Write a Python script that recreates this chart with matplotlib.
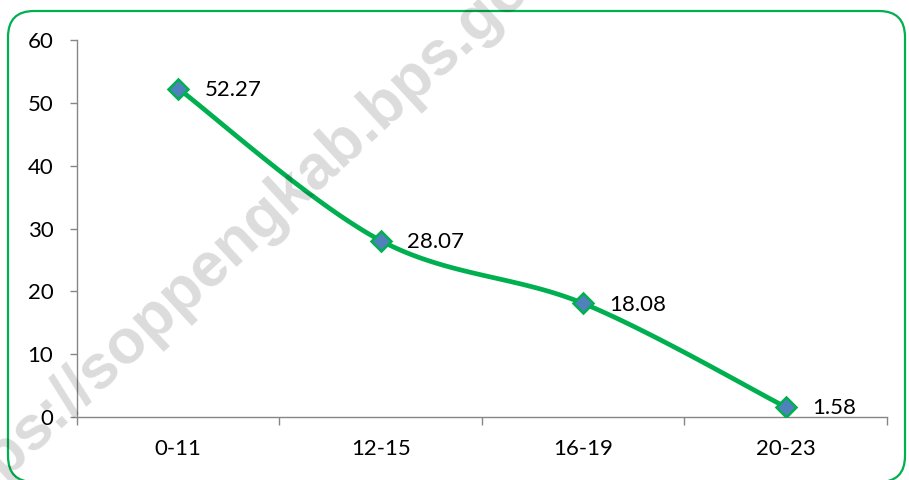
import numpy as np
import matplotlib
matplotlib.use('Agg')
import matplotlib.pyplot as plt
from matplotlib.patches import FancyBboxPatch
from matplotlib.transforms import IdentityTransform

# age groups (hours) and percentages
categories = ['0-11', '12-15', '16-19', '20-23']
values = [52.27, 28.07, 18.08, 1.58]

GREEN = '#00B050'
BLUE = '#4F81BD'
AXIS_GRAY = '#868686'

plt.rcParams['font.family'] = ['Lato', 'DejaVu Sans']


def smooth(xs, ys, n=40):
    # bezier smoothing like spreadsheet "smoothed line" (catmull-rom control points)
    xs = np.asarray(xs, float)
    ys = np.asarray(ys, float)
    px = np.concatenate([[xs[0]], xs, [xs[-1]]])
    py = np.concatenate([[ys[0]], ys, [ys[-1]]])
    out_x, out_y = [], []
    t = np.linspace(0, 1, n)
    for i in range(1, len(px) - 2):
        p0 = np.array([px[i], py[i]])
        p3 = np.array([px[i + 1], py[i + 1]])
        c1 = p0 + (np.array([px[i + 1], py[i + 1]]) - np.array([px[i - 1], py[i - 1]])) / 6
        c2 = p3 - (np.array([px[i + 2], py[i + 2]]) - np.array([px[i], py[i]])) / 6
        b = ((1 - t) ** 3)[:, None] * p0 + (3 * (1 - t) ** 2 * t)[:, None] * c1 \
            + (3 * (1 - t) * t ** 2)[:, None] * c2 + (t ** 3)[:, None] * p3
        out_x.extend(b[:, 0])
        out_y.extend(b[:, 1])
    return out_x, out_y


fig = plt.figure(figsize=(9.09, 4.8), dpi=100)
ax = fig.add_axes([0.0847, 0.13125, 0.8911, 0.7854])

x = np.arange(len(categories))
sx, sy = smooth(x, values)
ax.plot(sx, sy, color=GREEN, lw=3.4, solid_capstyle='round', zorder=3)
ax.plot(x, values, ls='none', marker='D', ms=10, mfc=BLUE, mec=GREEN,
        mew=1.8, zorder=4)

for xi, v in zip(x, values):
    ax.annotate(f'{v:.2f}', (xi, v), xytext=(19, -1), textcoords='offset points',
                ha='left', va='center', fontsize=16, color='black', zorder=5)

ax.set_xlim(-0.5, 3.5)
ax.set_ylim(0, 60)
ax.set_yticks(range(0, 61, 10))
ax.set_xticks(x)
ax.set_xticklabels(categories)
ax.set_xticks(np.arange(-0.5, 3.6, 1), minor=True)

for s in ['top', 'right']:
    ax.spines[s].set_visible(False)
for s in ['left', 'bottom']:
    ax.spines[s].set_color(AXIS_GRAY)
    ax.spines[s].set_linewidth(1.0)

ax.tick_params(axis='y', direction='out', length=5, width=1, color=AXIS_GRAY,
               labelsize=16, pad=12)
ax.tick_params(axis='x', which='major', length=0, labelsize=16, pad=16)
ax.tick_params(axis='x', which='minor', direction='out', length=6, width=1,
               color=AXIS_GRAY)

# translucent watermark laid over the chart
fig.text(0.2794, 0.5333, 'https://soppengkab.bps.go.id', fontsize=45,
         fontweight='bold', family='Liberation Sans', color='black', alpha=0.14,
         rotation=42.7, ha='center', va='center', zorder=20)

# rounded green border around the chart area
border = FancyBboxPatch((8, -2), 897, 471, boxstyle='round,pad=0,rounding_size=26',
                        transform=IdentityTransform(), fill=False,
                        edgecolor=GREEN, lw=1.6, zorder=10)
fig.patches.append(border)

fig.savefig('out.png', dpi=100)
